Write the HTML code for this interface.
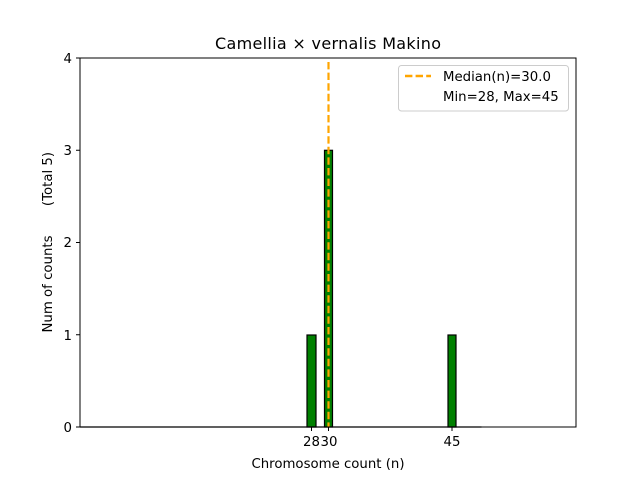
<!DOCTYPE html>
<html><head><style>body{margin:0;background:#fff}</style></head><body>
<svg width="640" height="480" xmlns="http://www.w3.org/2000/svg" font-family="DejaVu Sans, Liberation Sans, sans-serif">
<rect width="640" height="480" fill="#fff"/>
<text x="328" y="49" font-size="16" text-anchor="middle" textLength="226">Camellia × vernalis Makino</text>
<g fill="#008000" stroke="#000" stroke-width="1.2">
<rect x="307" y="335" width="9" height="92"/>
<rect x="324.5" y="150.3" width="8" height="276.7"/>
<rect x="448" y="335" width="8" height="92"/>
</g>
<line x1="80" y1="427" x2="481.5" y2="427" stroke="#000" stroke-width="1.2"/>
<line x1="328.5" y1="62" x2="328.5" y2="427" stroke="#ffa500" stroke-width="2.2" stroke-dasharray="7.4,3.2"/>
<rect x="80" y="58" width="496" height="369" fill="none" stroke="#000" stroke-width="1"/>
<g stroke="#000" stroke-width="1">
<line x1="311.5" y1="427" x2="311.5" y2="431"/><line x1="328.5" y1="427" x2="328.5" y2="431"/><line x1="452" y1="427" x2="452" y2="431"/>
<line x1="76" y1="427" x2="80" y2="427"/><line x1="76" y1="334.75" x2="80" y2="334.75"/><line x1="76" y1="242.5" x2="80" y2="242.5"/><line x1="76" y1="150.25" x2="80" y2="150.25"/><line x1="76" y1="58" x2="80" y2="58"/>
</g>
<g font-size="13.3" text-anchor="middle">
<text x="311.5" y="446">28</text><text x="329" y="446">30</text><text x="452" y="446">45</text>
<text x="328" y="468">Chromosome count (n)</text>
</g>
<g font-size="13.3" text-anchor="end">
<text x="72" y="432">0</text><text x="72" y="340">1</text><text x="72" y="247">2</text><text x="72" y="155">3</text><text x="72" y="63">4</text>
</g>
<text transform="translate(52,284) rotate(-90)" font-size="13.3" text-anchor="middle">Num of counts</text>
<text transform="translate(52,179) rotate(-90)" font-size="13.3" text-anchor="middle">(Total 5)</text>
<rect x="398.5" y="65.5" width="170" height="45.5" rx="3" fill="#fff" stroke="#ccc"/>
<line x1="405" y1="76" x2="431" y2="76" stroke="#ffa500" stroke-width="2.5" stroke-dasharray="7.4,3.2"/>
<text x="443" y="81" font-size="13.3">Median(n)=30.0</text>
<text x="443" y="101" font-size="13.3">Min=28, Max=45</text>
</svg>
</body></html>
